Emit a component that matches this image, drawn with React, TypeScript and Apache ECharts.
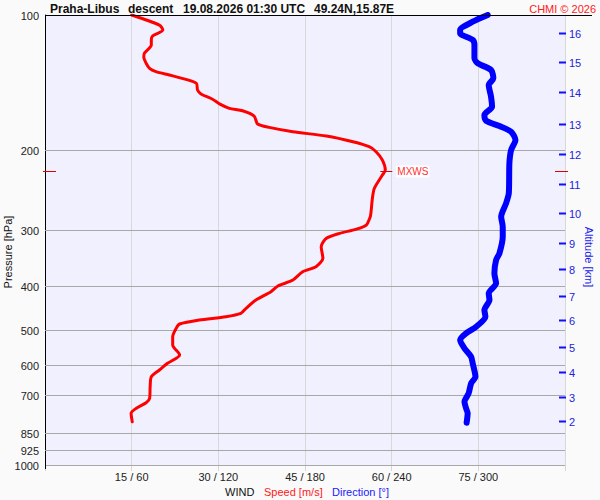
import React, { useEffect, useRef } from 'react';
import * as echarts from 'echarts';

// ---- tick labels / levels ----
const pressureTicks = [100, 200, 300, 400, 500, 600, 700, 850, 925, 1000];
const altitudeKm = [2, 3, 4, 5, 6, 7, 8, 9, 10, 11, 12, 13, 14, 15, 16];
const altitudePressure = [798.6, 705.2, 620.3, 546.0, 476.2, 421.1, 367.4, 320.6, 275.9, 237.8, 204.0, 174.4, 148.5, 127.4, 109.5];

// ---- wind speed profile (m/s) vs pressure (hPa) ----
const speedPressure = [
  100, 105.3, 108, 111.4, 113.6, 116.6, 121.6, 124.2, 128, 131.4, 133.6, 135.9, 139, 141.8, 146.8, 149.8,
  153.9, 157.6, 161.2, 163.2, 167.7, 174.7, 177.7, 181.7, 185.8, 191.3, 196.2, 201.3, 210.1, 221.1, 226.8,
  242.7, 253.4, 275.9, 280.7, 292.9, 299.4, 305.6, 313.5, 327.3, 347.3, 362.5, 371.9, 388.1, 400.2, 412.1,
  430, 448.6, 460.2, 468.3, 476.2, 486.1, 497.0, 518.7, 541.2, 569.4, 594.3, 615.1, 636.6, 669.9, 711.1,
  727.1, 748.2, 767.7, 801.4,
];
const windSpeed = [
  15.0, 19.8, 20.4, 18.6, 18.4, 18.4, 17.2, 17.1, 17.5, 18.1, 19.2, 21.5, 24.4, 26.2, 26.4, 27.0,
  29.0, 30.2, 31.9, 34.2, 36.2, 36.8, 38.8, 42.9, 48.7, 53.3, 56.1, 57.3, 58.4, 58.9, 58.4,
  57.0, 56.7, 56.4, 56.3, 55.6, 53.8, 51.0, 48.7, 47.8, 48.1, 46.9, 44.6, 42.9, 40.3, 39.1,
  36.5, 34.8, 33.9, 31.3, 26.7, 23.3, 22.7, 22.1, 22.1, 23.3, 21.2, 19.8, 18.4, 18.2, 18.1,
  17.5, 15.8, 14.9, 15.1,
];

// ---- wind direction profile (deg) vs pressure (hPa) ----
const dirPressure = [
  100, 103.5, 108, 109.8, 113.6, 116.6, 124.8, 128, 132.5, 138.2, 143.1, 151.9, 159.9, 166.8, 171.8,
  176.5, 181.7, 189.6, 199.5, 213.6, 249, 262.1, 280.7, 295.4, 311, 338.6, 350.4, 375, 394.7, 415.5,
  430, 452.4, 468.3, 492.8, 509.8, 527.7, 550.6, 574.5, 594.3, 636.6, 658.5, 693, 723.4, 748.2, 767.7, 805.6,
];
const windDir = [
  306.5, 296.1, 287.4, 287.4, 296.1, 297.3, 297.3, 299.6, 308.8, 310.4, 307.2, 308.8, 309.5, 304.2, 305.4,
  314.6, 322.7, 325.7, 322.7, 321.5, 321.1, 319.2, 315.8, 316.9, 316.9, 314.6, 312.3, 311.1, 312.3, 307.2,
  307.7, 304.2, 304.9, 298.5, 291.5, 287.4, 290.4, 295.0, 296.1, 298.0, 295.0, 293.3, 290.4, 291.5, 292.6, 291.9,
];

// ---- max wind ----
const maxWindSpeed = [58.9];
const maxWindPressure = [222.5];

const titleParts = ['Praha-Libus', 'descent', '19.08.2026 01:30 UTC', '49.24N,15.87E'];
const titleX = [50, 128, 183, 314];

const FONT = 'Liberation Sans, Arial, Helvetica, sans-serif';

export default function App() {
  const ref = useRef<HTMLDivElement>(null);

  useEffect(() => {
    if (!ref.current) return;
    const chart = echarts.init(ref.current, undefined, { renderer: 'svg' });

    const option: any = {
      animation: false,
      backgroundColor: '#fafafa',
      grid: {
        left: 45, top: 15, width: 520, height: 450,
        show: true, backgroundColor: '#f0f0ff', borderWidth: 0,
      },
      xAxis: [
        {
          type: 'value', min: 0, max: 90, interval: 15, position: 'bottom',
          axisLine: { show: false },
          axisTick: { show: true, length: 6, lineStyle: { color: '#d6d6d6' } },
          splitLine: { show: true, lineStyle: { color: '#d8d8d8', width: 1 } },
          axisLabel: {
            color: '#222', fontSize: 11, fontFamily: FONT, margin: 6,
            formatter: (v: number) => (v > 0 && v < 90 ? `${v} / ${v * 4}` : ''),
          },
        },
        { type: 'value', min: 0, max: 360, show: false },
      ],
      yAxis: {
        type: 'log', logBase: 10, min: 100, max: 1000, inverse: true,
        axisLine: { show: true, onZero: false, lineStyle: { color: '#000', width: 1 } },
        axisTick: { show: false }, axisLabel: { show: false }, splitLine: { show: false },
      },
      graphic: [
        { type: 'line', silent: true, shape: { x1: 45, y1: 15.5, x2: 592, y2: 15.5 }, style: { stroke: '#000', lineWidth: 1 }, z: 10 },
        { type: 'line', silent: true, shape: { x1: 45.5, y1: 465, x2: 45.5, y2: 469 }, style: { stroke: '#000', lineWidth: 1 }, z: 10 },
        ...titleParts.map((t, i) => ({
          type: 'text', left: titleX[i], top: 3, silent: true,
          style: { text: t, fill: '#111', font: `bold 12px ${FONT}` },
        })),
        { type: 'text', right: 4, top: 3, silent: true, style: { text: 'CHMI © 2026', fill: '#ff2020', font: `11px ${FONT}` } },
        {
          type: 'text', x: 8, y: 252, rotation: Math.PI / 2, silent: true,
          style: { text: 'Pressure [hPa]', fill: '#111', font: `11px ${FONT}`, align: 'center', verticalAlign: 'middle', textAlign: 'center', textVerticalAlign: 'middle' },
        },
        {
          type: 'text', x: 589, y: 257, rotation: -Math.PI / 2, silent: true,
          style: { text: 'Altitude [km]', fill: '#2020ee', font: `11px ${FONT}`, align: 'center', verticalAlign: 'middle', textAlign: 'center', textVerticalAlign: 'middle' },
        },
        { type: 'text', left: 225, top: 486, silent: true, style: { text: 'WIND', fill: '#111', font: `11px ${FONT}` } },
        { type: 'text', left: 264, top: 486, silent: true, style: { text: 'Speed [m/s]', fill: '#ff2020', font: `11px ${FONT}` } },
        { type: 'text', left: 332, top: 486, silent: true, style: { text: 'Direction [°]', fill: '#2020ff', font: `11px ${FONT}` } },
      ],
      series: [
        {
          type: 'custom', name: 'levels', xAxisIndex: 0, yAxisIndex: 0, z: 1, silent: true, clip: false,
          data: pressureTicks.map((p) => [0, p]),
          renderItem: (params: any, api: any) => {
            const cs = params.coordSys;
            const p = api.value(1);
            const y = Math.round(api.coord([0, p])[1]) + 0.5;
            const children: any[] = [];
            if (p !== pressureTicks[0]) {
              children.push({ type: 'line', shape: { x1: cs.x, y1: y, x2: cs.x + cs.width, y2: y }, style: { stroke: '#a8a8a8', lineWidth: 1 } });
            }
            children.push({
              type: 'text',
              style: { text: String(p), x: cs.x - 6, y, align: 'right', verticalAlign: 'middle', textAlign: 'right', textVerticalAlign: 'middle', fill: '#222', font: `11px ${FONT}` },
            });
            return { type: 'group', children };
          },
        },
        {
          type: 'custom', name: 'altitude', xAxisIndex: 0, yAxisIndex: 0, z: 1, silent: true, clip: false,
          data: altitudePressure.map((p, i) => [0, p, altitudeKm[i]]),
          renderItem: (params: any, api: any) => {
            const cs = params.coordSys;
            const y = Math.round(api.coord([0, api.value(1)])[1]) + 0.5;
            const right = cs.x + cs.width;
            return {
              type: 'group',
              children: [
                { type: 'line', shape: { x1: right - 6, y1: y, x2: right + 1, y2: y }, style: { stroke: '#1010ff', lineWidth: 2 } },
                {
                  type: 'text',
                  style: { text: String(api.value(2)), x: right + 4, y, align: 'left', verticalAlign: 'middle', textAlign: 'left', textVerticalAlign: 'middle', fill: '#2222dd', font: `11px ${FONT}` },
                },
              ],
            };
          },
        },
        {
          type: 'line', name: 'Speed', xAxisIndex: 0, yAxisIndex: 0, z: 3,
          data: speedPressure.map((p, i) => [windSpeed[i], p]),
          symbol: 'none', showSymbol: false, smooth: 0.25,
          lineStyle: { color: '#ff0000', width: 3, cap: 'round', join: 'round' },
        },
        {
          type: 'line', name: 'Direction', xAxisIndex: 1, yAxisIndex: 0, z: 3,
          data: dirPressure.map((p, i) => [windDir[i], p]),
          symbol: 'none', showSymbol: false, smooth: 0.25,
          lineStyle: { color: '#0000ff', width: 6, cap: 'round', join: 'round' },
        },
        {
          type: 'custom', name: 'mxws', xAxisIndex: 0, yAxisIndex: 0, z: 5, silent: true, clip: false,
          data: maxWindSpeed.map((s, i) => [s, maxWindPressure[i]]),
          renderItem: (params: any, api: any) => {
            const cs = params.coordSys;
            const pt = api.coord([api.value(0), api.value(1)]);
            const y = Math.round(pt[1]) + 0.5;
            const right = cs.x + cs.width;
            const st = { stroke: '#e00000', lineWidth: 1 };
            return {
              type: 'group',
              children: [
                { type: 'line', shape: { x1: cs.x - 2, y1: y, x2: cs.x + 11, y2: y }, style: st },
                { type: 'line', shape: { x1: right - 10, y1: y, x2: right + 3, y2: y }, style: st },
                { type: 'line', shape: { x1: pt[0] - 5, y1: y, x2: pt[0] + 7, y2: y }, style: st },
                {
                  type: 'text',
                  style: {
                    text: 'MXWS', x: pt[0] + 11, y, align: 'left', verticalAlign: 'middle', textAlign: 'left', textVerticalAlign: 'middle',
                    fill: '#ff3030', font: `10px ${FONT}`, backgroundColor: '#ffffff', padding: [1, 1],
                  },
                },
              ],
            };
          },
        },
      ],
    };

    chart.setOption(option);
    return () => chart.dispose();
  }, []);

  return <div ref={ref} style={{ position: 'fixed', left: 0, top: 0, width: 600, height: 500 }} />;
}
